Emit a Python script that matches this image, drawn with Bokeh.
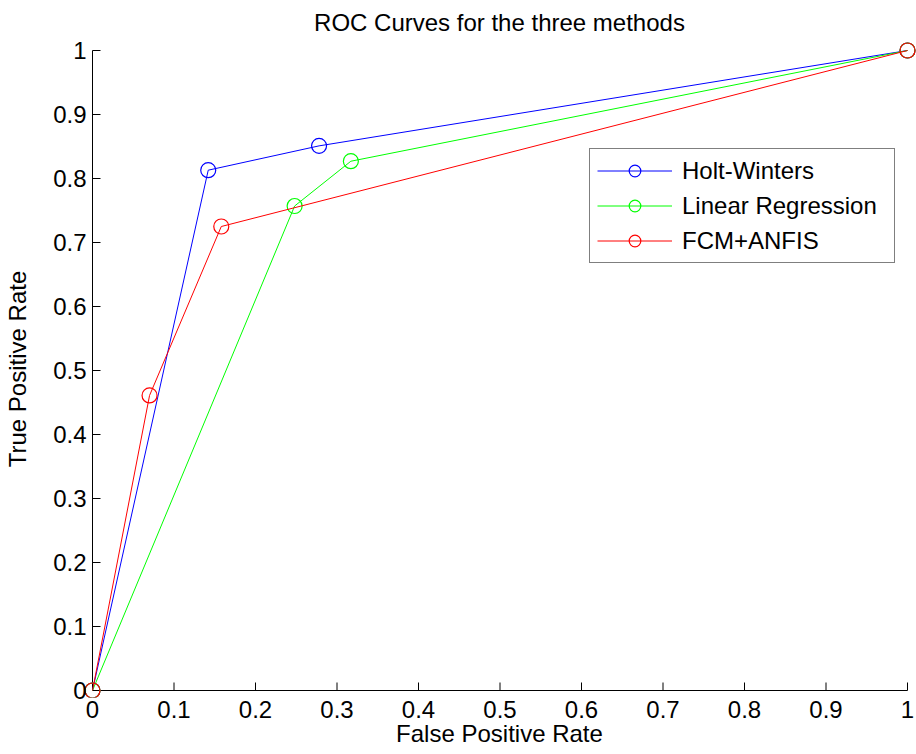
from bokeh.plotting import figure
from bokeh.models import Range1d, FixedTicker, Legend, LegendItem
from bokeh.embed import file_html
from bokeh.resources import INLINE

# ROC operating points (false positive rate, true positive rate)
hw_fpr = [0.0, 0.142, 0.278, 1.0]
hw_tpr = [0.0, 0.813, 0.851, 1.0]

lr_fpr = [0.0, 0.248, 0.317, 1.0]
lr_tpr = [0.0, 0.757, 0.827, 1.0]

fcm_fpr = [0.0, 0.070, 0.158, 1.0]
fcm_tpr = [0.0, 0.461, 0.725, 1.0]

series_names = ["Holt-Winters", "Linear Regression", "FCM+ANFIS"]
series_colors = ["#0000ff", "#00ff00", "#ff0000"]

ticks = [i / 10 for i in range(11)]
tick_labels = ["0", "0.1", "0.2", "0.3", "0.4", "0.5", "0.6", "0.7", "0.8", "0.9", "1"]

FONT = "Liberation Sans"

# pixels per unit along each axis; a little room is left around [0, 1]
# so the markers sitting on the corners are drawn whole
PX_X = 815.0
PX_Y = 640.0
TICK_LEN = 8  # inward tick length, px
x_range = Range1d(-10 / PX_X, 1 + 9 / PX_X)
y_range = Range1d(-7 / PX_Y, 1 + 10 / PX_Y)

p = figure(
    width=916, height=754,
    x_range=x_range, y_range=y_range,
    output_backend="svg", toolbar_location=None,
    min_border_left=82, min_border_right=0,
    min_border_top=40, min_border_bottom=57,
    title="ROC Curves for the three methods",
)
p.title.align = "center"
p.title.text_font = FONT
p.title.text_font_size = "24px"
p.title.text_font_style = "normal"
p.title.text_color = "black"
p.title.standoff = 10

p.xgrid.visible = False
p.ygrid.visible = False
p.outline_line_color = None
p.background_fill_color = "white"
p.border_fill_color = "white"

# axes supply the tick labels and titles; the axis rules and inward
# ticks are drawn at x = 0 and y = 0 below
for ax in (p.xaxis[0], p.yaxis[0]):
    ax.ticker = FixedTicker(ticks=ticks)
    ax.major_label_overrides = {t: l for t, l in zip(ticks, tick_labels)}
    ax.axis_line_color = None
    ax.major_tick_line_color = None
    ax.minor_tick_line_color = None
    ax.major_tick_in = 0
    ax.major_tick_out = 0
    ax.major_label_text_font = FONT
    ax.major_label_text_font_size = "24px"
    ax.major_label_text_color = "black"
    ax.axis_label_text_font = FONT
    ax.axis_label_text_font_size = "24px"
    ax.axis_label_text_font_style = "normal"
    ax.axis_label_text_color = "black"

p.xaxis.axis_label = "False Positive Rate"
p.yaxis.axis_label = "True Positive Rate"
p.xaxis.major_label_standoff = 3
p.xaxis.axis_label_standoff = -1
p.yaxis.major_label_standoff = -4
p.yaxis.axis_label_standoff = 19

# axis rules and inward ticks
p.segment(x0=[0, 0], y0=[0, 0], x1=[1, 0], y1=[0, 1], line_color="black", line_width=1)
p.segment(x0=ticks, y0=[0] * len(ticks), x1=ticks, y1=[TICK_LEN / PX_Y] * len(ticks),
          line_color="black", line_width=1)
p.segment(x0=[0] * len(ticks), y0=ticks, x1=[TICK_LEN / PX_X] * len(ticks), y1=ticks,
          line_color="black", line_width=1)

items = []
for xs, ys, name, color in zip(
    [hw_fpr, lr_fpr, fcm_fpr], [hw_tpr, lr_tpr, fcm_tpr], series_names, series_colors
):
    ln = p.line(xs, ys, line_color=color, line_width=1)
    sc = p.scatter(xs, ys, marker="circle", size=15, fill_color=None,
                   line_color=color, line_width=1.2)
    items.append(LegendItem(label=name, renderers=[ln, sc]))

legend = Legend(
    items=items,
    location=(507, 434),
    border_line_color="black",
    border_line_width=1,
    background_fill_color="white",
    background_fill_alpha=1,
    padding=7,
    margin=0,
    spacing=6,
    glyph_width=75,
    glyph_height=29,
    label_height=29,
    label_width=205,
    label_standoff=10,
    label_text_font=FONT,
    label_text_font_size="24px",
    label_text_color="black",
)
p.add_layout(legend, "center")

open("out.html", "w").write(file_html(p, INLINE))
